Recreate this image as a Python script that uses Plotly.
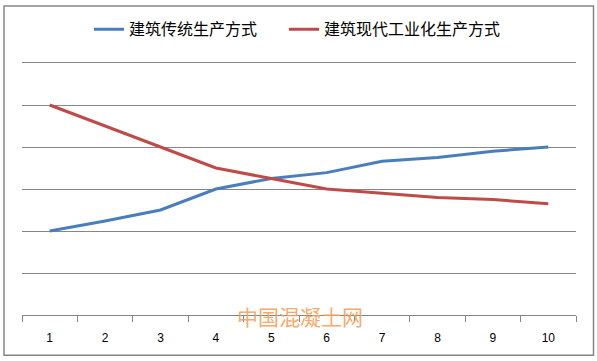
import plotly.graph_objects as go

categories = ["1", "2", "3", "4", "5", "6", "7", "8", "9", "10"]
traditional = [2.0, 2.24, 2.5, 3.0, 3.25, 3.39, 3.66, 3.75, 3.9, 4.0]
industrial = [5.0, 4.5, 4.0, 3.5, 3.25, 3.0, 2.9, 2.8, 2.75, 2.65]
series_names = ["建筑传统生产方式", "建筑现代工业化生产方式"]
watermark = "中国混凝土网"
y_max = 6

W, H = 597, 361
L, R, T, B = 22, 21, 61, 46
pw, ph = W - L - R, H - T - B

def px_x(x):
    return (x - L) / pw

def px_y(y):
    return (H - B - y) / ph

fig = go.Figure()
fig.add_trace(go.Scatter(x=categories, y=traditional, mode="lines", name=series_names[0],
                         line=dict(color="#4A7EBB", width=3), legend="legend"))
fig.add_trace(go.Scatter(x=categories, y=industrial, mode="lines", name=series_names[1],
                         line=dict(color="#BE4B48", width=3), legend="legend2"))

leg_common = dict(orientation="h", xanchor="left", y=px_y(27), yanchor="middle",
                  font=dict(family="Noto Sans CJK SC", size=16), itemwidth=30,
                  bgcolor="rgba(0,0,0,0)")

fig.update_layout(
    width=W, height=H,
    margin=dict(l=L, r=R, t=T, b=B),
    paper_bgcolor="white", plot_bgcolor="white",
    font=dict(family="Noto Sans CJK SC", size=13, color="black"),
    legend=dict(x=px_x(89), **leg_common),
    legend2=dict(x=px_x(284), **leg_common),
    xaxis=dict(type="category", range=[-0.5, 9.5], showgrid=False, showline=True,
               linecolor="#868686", linewidth=1, ticks="outside", tickson="boundaries",
               ticklen=6, tickcolor="#868686", ticklabelstandoff=12,
               tickfont=dict(family="Liberation Sans", size=12, color="black"),
               fixedrange=True),
    yaxis=dict(range=[0, y_max], tickvals=[1, 2, 3, 4, 5, 6], showgrid=True,
               gridcolor="#868686", gridwidth=1,
               showticklabels=False, zeroline=False, showline=False, fixedrange=True),
    shapes=[dict(type="rect", xref="paper", yref="paper",
                 x0=px_x(4), x1=px_x(593.5), y0=px_y(355.5), y1=px_y(3.5),
                 line=dict(color="#868686", width=1.5), fillcolor="rgba(0,0,0,0)",
                 layer="above"),
            dict(type="line", xref="paper", yref="paper", x0=0, x1=1,
                 y0=px_y(60.5), y1=px_y(60.5),
                 line=dict(color="#868686", width=1), layer="below")],
    annotations=[dict(text=watermark, xref="paper", yref="paper", x=px_x(300), y=px_y(316),
                      xanchor="center", yanchor="middle", showarrow=False,
                      font=dict(family="Noto Sans CJK SC", size=21, color="rgba(244,160,90,0.9)"))],
    showlegend=True,
)

fig.write_html("out.html", config={"displayModeBar": False},
               post_script="document.body.style.margin='0';document.body.style.overflow='hidden';")
